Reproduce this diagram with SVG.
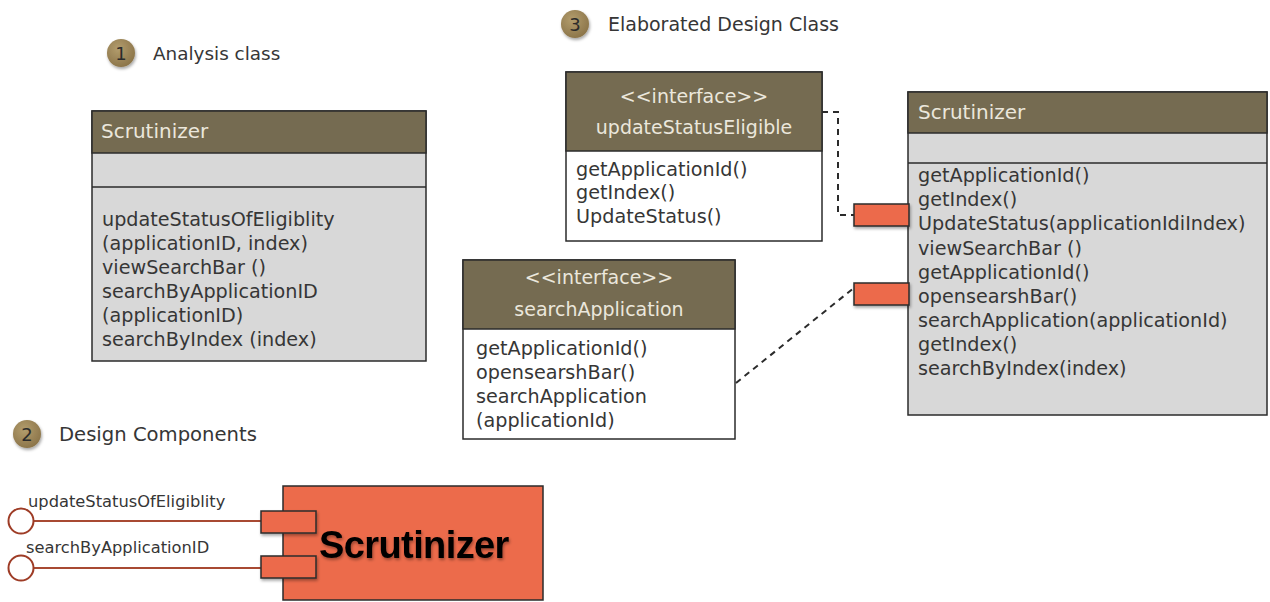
<svg xmlns="http://www.w3.org/2000/svg" width="1270" height="602" viewBox="0 0 1270 602">
<style>
text{font-family:"DejaVu Sans","Liberation Sans",sans-serif;fill:#363636}
.hd{fill:#756b51;stroke:#2b2b2b;stroke-width:1.5}
.gb{fill:#d8d8d8;stroke:#2b2b2b;stroke-width:1.5}
.wb{fill:#ffffff;stroke:#2b2b2b;stroke-width:1.5}
.ht{fill:#ebe7dc;font-size:20px}
.hi{fill:#ebe7dc;font-size:19px;text-anchor:middle}
.m{font-size:19.2px}
.lbl{font-size:19px}
.port{fill:#ec6b4b;stroke:#2b2b2b;stroke-width:1.5;filter:url(#sh)}
.dash{fill:none;stroke:#2b2b2b;stroke-width:2;stroke-dasharray:6 5}
.lol{fill:#ffffff;stroke:#9e3c26;stroke-width:2}
.lline{stroke:#a84a33;stroke-width:2}
.bn{font-size:18px;fill:#2b2b2b;text-anchor:middle}
.sl{font-size:16.3px}
</style>
<defs>
<radialGradient id="bg" cx="40%" cy="35%" r="70%">
<stop offset="0" stop-color="#b39d6d"/>
<stop offset="1" stop-color="#8a7348"/>
</radialGradient>
<filter id="sh" x="-30%" y="-30%" width="160%" height="170%">
<feDropShadow dx="1" dy="2" stdDeviation="1.5" flood-color="#000" flood-opacity="0.35"/>
</filter>
</defs>

<g id="badge1">
<circle cx="121" cy="53" r="14" fill="url(#bg)" filter="url(#sh)"/>
<text class="bn" x="121" y="60">1</text>
<text x="153" y="60" font-size="18.4">Analysis class</text>
</g>

<g id="badge2">
<circle cx="27" cy="434" r="14" fill="url(#bg)" filter="url(#sh)"/>
<text class="bn" x="27" y="441">2</text>
<text x="59" y="441" font-size="19.6">Design Components</text>
</g>

<g id="badge3">
<circle cx="575" cy="24" r="14" fill="url(#bg)" filter="url(#sh)"/>
<text class="bn" x="575" y="31">3</text>
<text class="lbl" x="608" y="31">Elaborated Design Class</text>
</g>

<g id="analysis-class">
<rect class="gb" x="92" y="111" width="334" height="250"/>
<rect class="hd" x="92" y="111" width="334" height="42"/>
<line x1="92" y1="187" x2="426" y2="187" stroke="#2b2b2b" stroke-width="1.5"/>
<text class="ht" x="101" y="138">Scrutinizer</text>
<text class="m" x="102" y="226">updateStatusOfEligiblity</text>
<text class="m" x="102" y="250">(applicationID, index)</text>
<text class="m" x="102" y="274">viewSearchBar ()</text>
<text class="m" x="102" y="298">searchByApplicationID</text>
<text class="m" x="102" y="322">(applicationID)</text>
<text class="m" x="102" y="346">searchByIndex (index)</text>
</g>

<g id="connectors">
<path class="dash" d="M822,112 H838 V215 H854"/>
<path class="dash" d="M736,383 L855,287"/>
<line class="lline" x1="34" y1="521" x2="261" y2="521"/>
<line class="lline" x1="34" y1="568" x2="261" y2="568"/>
</g>

<g id="component">
<rect x="283" y="486" width="260" height="114" fill="#ec6b4b" stroke="#2b2b2b" stroke-width="1.5"/>
<text x="319" y="558" font-weight="bold" font-size="38" letter-spacing="-0.6" style="fill:#000000;font-family:'Liberation Sans',sans-serif" filter="url(#sh)">Scrutinizer</text>
<rect class="port" x="261" y="511" width="55" height="22"/>
<rect class="port" x="261" y="556" width="55" height="22"/>
</g>

<g id="iface-update">
<circle class="lol" cx="21" cy="521" r="12.5"/>
<text class="sl" x="28" y="507">updateStatusOfEligiblity</text>
</g>

<g id="iface-search">
<circle class="lol" cx="21" cy="568" r="12.5"/>
<text class="sl" x="26" y="553">searchByApplicationID</text>
</g>

<g id="interface-updateStatusEligible">
<rect class="wb" x="566" y="72" width="256" height="169"/>
<rect class="hd" x="566" y="72" width="256" height="79"/>
<text class="hi" x="694" y="103">&lt;&lt;interface&gt;&gt;</text>
<text class="hi" x="694" y="134">updateStatusEligible</text>
<text class="m" x="576" y="176">getApplicationId()</text>
<text class="m" x="576" y="199">getIndex()</text>
<text class="m" x="576" y="223">UpdateStatus()</text>
</g>

<g id="interface-searchApplication">
<rect class="wb" x="463" y="260" width="272" height="179"/>
<rect class="hd" x="463" y="260" width="272" height="69"/>
<text class="hi" x="599" y="284">&lt;&lt;interface&gt;&gt;</text>
<text class="hi" x="599" y="316">searchApplication</text>
<text class="m" x="476" y="355">getApplicationId()</text>
<text class="m" x="476" y="379">opensearshBar()</text>
<text class="m" x="476" y="403">searchApplication</text>
<text class="m" x="476" y="427">(applicationId)</text>
</g>

<g id="design-class">
<rect class="gb" x="908" y="92" width="359" height="323"/>
<rect class="hd" x="908" y="92" width="359" height="41"/>
<line x1="908" y1="163" x2="1267" y2="163" stroke="#2b2b2b" stroke-width="1.5"/>
<text class="ht" x="918" y="119">Scrutinizer</text>
<text class="m" x="918" y="182">getApplicationId()</text>
<text class="m" x="918" y="206">getIndex()</text>
<text class="m" x="918" y="230">UpdateStatus(applicationIdiIndex)</text>
<text class="m" x="918" y="255">viewSearchBar ()</text>
<text class="m" x="918" y="279">getApplicationId()</text>
<text class="m" x="918" y="303">opensearshBar()</text>
<text class="m" x="918" y="327">searchApplication(applicationId)</text>
<text class="m" x="918" y="351">getIndex()</text>
<text class="m" x="918" y="375">searchByIndex(index)</text>
<rect class="port" x="854" y="204" width="55" height="22"/>
<rect class="port" x="854" y="283" width="55" height="22"/>
</g>
</svg>
